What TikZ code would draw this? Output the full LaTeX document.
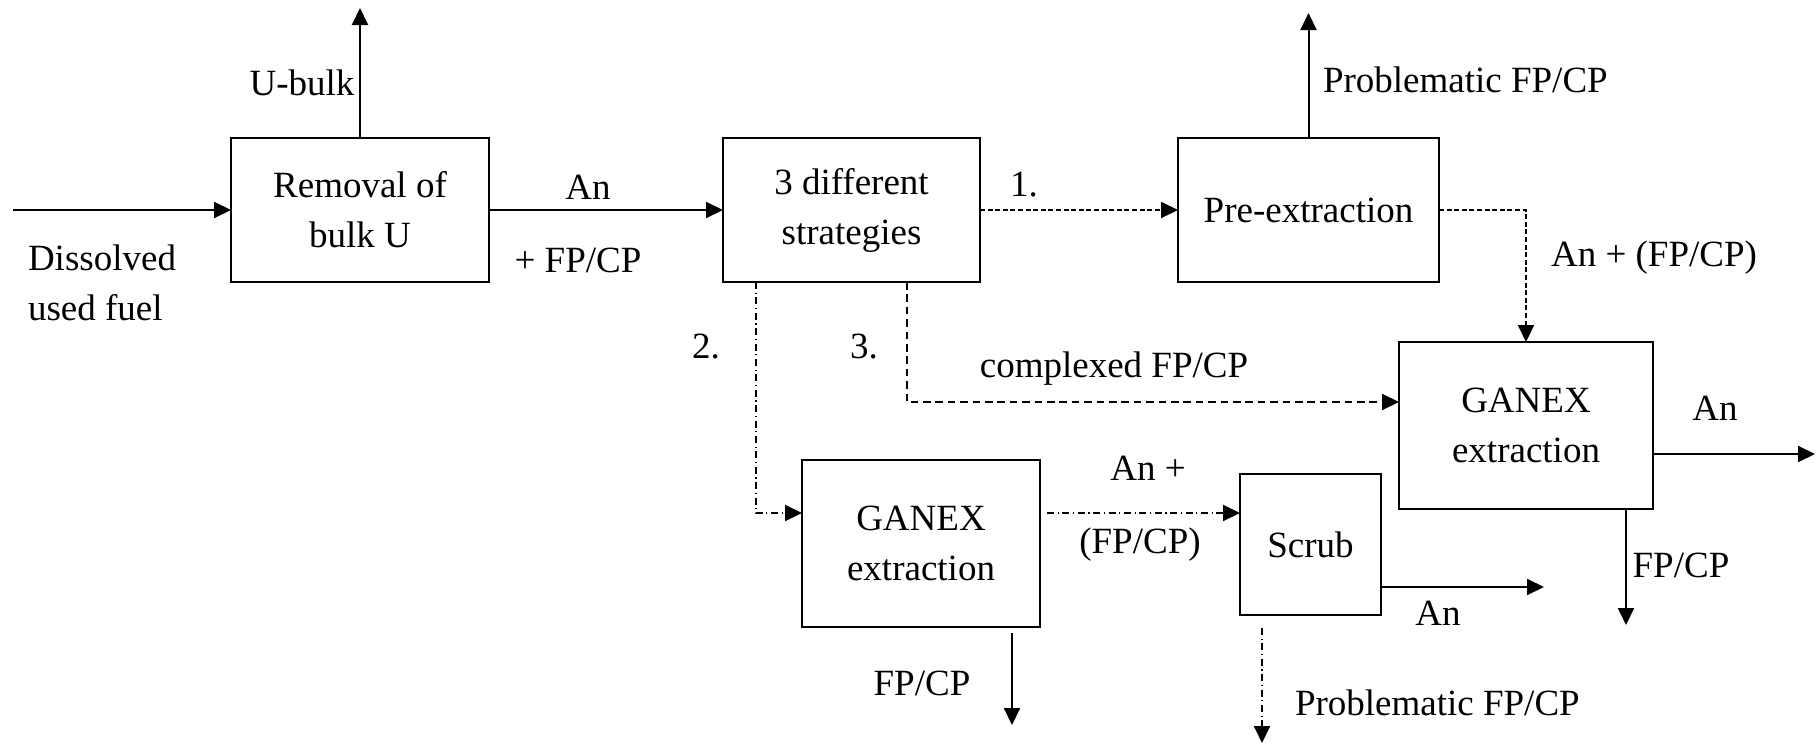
\documentclass[tikz,border=0pt]{standalone}
\usepackage{fontspec}
\setmainfont{Liberation Serif}
\usetikzlibrary{arrows.meta}
\tikzset{
  box/.style={draw, line width=1pt, inner sep=0pt, outer sep=0pt, align=center},
  lbl/.style={inner sep=0pt, outer sep=0pt},
  arr/.style={line width=1pt, -{Triangle[length=8.5pt,width=8pt]}},
  finedash/.style={dash pattern=on 2.5pt off 1.3pt},
  longdash/.style={dash pattern=on 3.8pt off 2.4pt},
  dashdot/.style={dash pattern=on 3.5pt off 1.8pt on 0.6pt off 1.8pt},
}
\begin{document}
\begin{tikzpicture}[x=0.5pt,y=-0.5pt, every node/.style={font=\fontsize{18.5}{25}\selectfont}]
\useasboundingbox (0,0) rectangle (1816,744);
% boxes
\node[box, minimum width=129pt, minimum height=72pt] (rem) at (360,210) {Removal of\\bulk U};
\node[box, minimum width=128.5pt, minimum height=72pt] (strat) at (851.5,210) {3 different\\strategies};
\node[box, minimum width=130.5pt, minimum height=72pt] (pre) at (1308.5,210) {Pre-extraction};
\node[box, minimum width=127pt, minimum height=83.5pt] (ganR) at (1526,425.5) {GANEX\\extraction};
\node[box, minimum width=119pt, minimum height=83.5pt] (ganL) at (921,543.5) {GANEX\\extraction};
\node[box, minimum width=70.5pt, minimum height=70.5pt] (scrub) at (1310.5,544.5) {Scrub};
% free ends
\coordinate (in) at (13,210);
\coordinate (ubulk) at (360,8);
\coordinate (preup) at (1308.5,13);
\coordinate (anout) at (1815,454);
\coordinate (ganRdown) at (1626,625);
\coordinate (ganLdown) at (1012,725);
\coordinate (scrubAn) at (1544,587);
\coordinate (scrubdown) at (1262,743);
% labels
\node[lbl] (lub) at (302,83) {U-bulk};
\node[lbl, anchor=west, align=left] (ldis) at (28,283) {Dissolved\\used fuel};
\node[lbl] (lan1) at (588,187) {An};
\node[lbl] (lfp1) at (578,260) {+ FP/CP};
\node[lbl] (l1) at (1024,185) {1.};
\node[lbl, anchor=west] (lprob1) at (1323,80) {Problematic FP/CP};
\node[lbl] (lanfp) at (1654,258) {An + (FP/CP)};
\node[lbl] (l2) at (706,347) {2.};
\node[lbl] (l3) at (864,347) {3.};
\node[lbl] (lcx) at (1114,369) {complexed FP/CP};
\node[lbl] (lan2) at (1715,408) {An};
\node[lbl] (lfp2) at (1681,565) {FP/CP};
\node[lbl] (lan3) at (1148,468) {An +};
\node[lbl] (lfp3) at (1140,545) {(FP/CP)};
\node[lbl] (lan4) at (1438,613) {An};
\node[lbl] (lfp4) at (922,683) {FP/CP};
\node[lbl, anchor=west] (lprob2) at (1295,703) {Problematic FP/CP};
% connectors
\draw[arr] (in) -- (rem.west);
\draw[arr] (rem.north) -- (ubulk);
\draw[arr] (rem.east) -- (strat.west);
\draw[arr, finedash] (strat.east) -- (pre.west);
\draw[arr] (pre.north) -- (preup);
\draw[arr, finedash] (pre.east) -| (ganR.north);
\draw[arr, dashdot] ([xshift=-48pt]strat.south) |- ([yshift=15.25pt]ganL.west);
\draw[arr, longdash] ([xshift=27.5pt]strat.south) |- ([yshift=11.75pt]ganR.west);
\coordinate (gl) at ([yshift=15.25pt]ganL.east);
\draw[arr, dashdot, shorten <=3.5pt] (gl) -- (gl -| scrub.west);
\draw[arr] ([yshift=-14.25pt]ganR.east) -- (anout);
\draw[arr] ([xshift=50pt]ganR.south) -- (ganRdown);
\draw[arr] ([yshift=-21.25pt]scrub.east) -- (scrubAn);
\draw[arr, dashdot, shorten <=6.5pt] ([xshift=-24.25pt]scrub.south) -- (scrubdown);
\draw[arr, shorten <=3pt] ([xshift=45.5pt]ganL.south) -- (ganLdown);
\end{tikzpicture}
\end{document}
